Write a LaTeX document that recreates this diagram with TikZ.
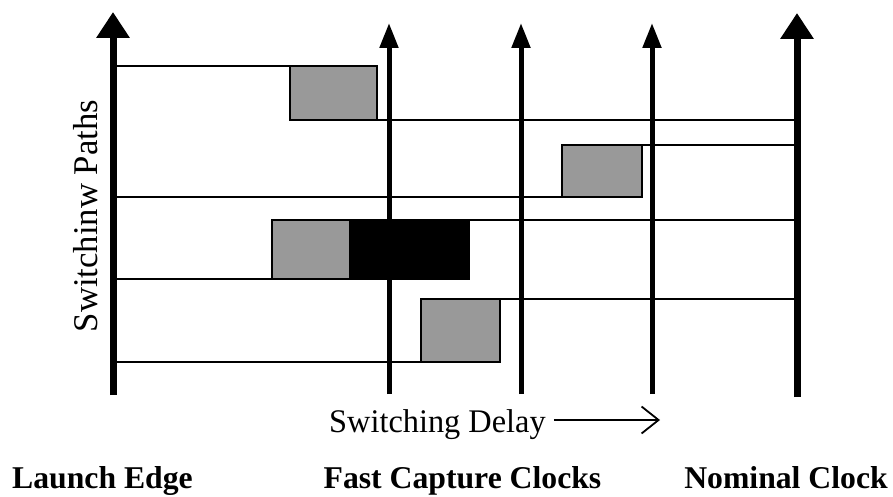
\documentclass[tikz,border=0pt]{standalone}
\usepackage{fontspec}
\setmainfont{Liberation Serif}
\usetikzlibrary{arrows.meta}
\definecolor{boxgray}{RGB}{153,153,153}
\begin{document}
\begin{tikzpicture}[x=1pt,y=-1pt,
  thinline/.style={line width=1.8pt,line cap=rect},
  bigclock/.style={line width=7pt,-{Triangle[length=26pt,width=32pt]}},
  smallclock/.style={line width=5pt,-{Triangle[length=25pt,width=18pt]}},
  graybox/.style={fill=boxgray,draw=black,line width=1.8pt},
  blackbox/.style={fill=black,draw=black,line width=1.8pt},
  boldlabel/.style={inner sep=0pt,anchor=base,font=\fontsize{31.7pt}{36pt}\selectfont\bfseries},
  plainlabel/.style={inner sep=0pt,font=\fontsize{33pt}{38pt}\selectfont}]
\useasboundingbox[fill=white] (0,0) rectangle (893,497);

% path coordinates on launch (L) and nominal (N) axes
\coordinate (La) at (113,66);
\coordinate (Lb) at (113,197);
\coordinate (Lc) at (113,279);
\coordinate (Ld) at (113,362);
\coordinate (Na) at (797,120);
\coordinate (Nb) at (797,145);
\coordinate (Nc) at (797,220);
\coordinate (Nd) at (797,299);

% boxes
\coordinate (b1nw) at (290,66);  \coordinate (b1se) at (377,120);
\coordinate (b2nw) at (642,145); \coordinate (b2sw) at (562,197);
\coordinate (b3nw) at (272,220); \coordinate (b3sw) at (272,279);
\coordinate (b3m) at (350,279);  \coordinate (b3ne) at (469,220);
\coordinate (b4nw) at (500,299); \coordinate (b4sw) at (421,362);

\draw[thinline] (La) -- (b1nw);
\draw[thinline] (b1se) -- (Na);
\draw[thinline] (Lb) -- (b2sw);
\draw[thinline] (b2nw) -- (Nb);
\draw[thinline] (Lc) -- (b3sw);
\draw[thinline] (b3ne) -- (Nc);
\draw[thinline] (Ld) -- (b4sw);
\draw[thinline] (b4nw) -- (Nd);

\draw[graybox] (b1nw) rectangle (b1se);
\draw[graybox] (b2sw) rectangle (b2nw);
\draw[graybox] (b3nw) rectangle (b3m);
\draw[blackbox] (b3m) rectangle (b3ne);
\draw[graybox] (b4sw) rectangle (b4nw);

% clock arrows
\coordinate (l0) at (113,395); \coordinate (l1) at (113,12);
\coordinate (f10) at (389,394); \coordinate (f11) at (389,23);
\coordinate (f20) at (521,394); \coordinate (f21) at (521,23);
\coordinate (f30) at (652,394); \coordinate (f31) at (652,23);
\coordinate (n0) at (797,397); \coordinate (n1) at (797,13);
\draw[bigclock] (l0) -- (l1);
\draw[smallclock] (f10) -- (f11);
\draw[smallclock] (f20) -- (f21);
\draw[smallclock] (f30) -- (f31);
\draw[bigclock] (n0) -- (n1);

% labels
\node[plainlabel,rotate=90,anchor=base,font=\fontsize{34.7pt}{40pt}\selectfont] (yl) at (97,216) {Switchinw Paths};
\node[plainlabel,anchor=base west] (sd) at (329,432) {\scalebox{0.98}[1]{Switching Delay}};
\coordinate (sdend) at (660,420);
\draw[line width=1.8pt,-{Straight Barb[length=17pt,width=27pt]}] (sd.east |- sdend) ++(8,0) coordinate (sdstart) -- (sdend);
\node[boldlabel] (launch) at (102.5,488) {Launch Edge};
\node[boldlabel] (fast) at (462.5,488) {Fast Capture Clocks};
\node[boldlabel] (nom) at (786,488) {Nominal Clock};
\end{tikzpicture}
\end{document}
